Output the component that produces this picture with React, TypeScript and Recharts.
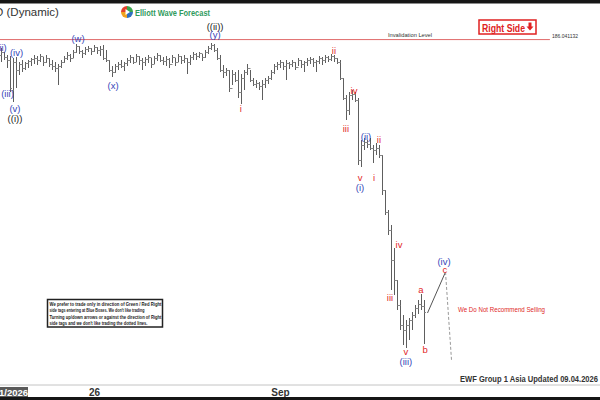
import React from 'react';
import {
  ComposedChart,
  Bar,
  Line,
  XAxis,
  YAxis,
  ReferenceLine,
  ReferenceDot
} from 'recharts';

// OHLC bars, one per session, price
const highs = [
  185.2, 184.8, 184.5, 184.4, 184.2, 184.3, 183.8, 184.0, 183.8, 184.0,
  184.2, 184.5, 184.4, 184.6, 184.3, 184.5, 184.2, 184.0, 183.8, 183.6,
  184.0, 184.4, 184.8, 184.6, 185.0, 185.6, 185.4, 185.0, 185.3, 185.4,
  185.2, 185.5, 185.3, 185.4, 185.5, 185.0, 184.0, 183.4, 183.6, 183.8,
  184.0, 183.8, 184.2, 184.5, 184.3, 184.6, 184.4, 184.2, 184.3, 184.5,
  184.2, 184.4, 184.7, 184.5, 184.3, 184.4, 184.2, 184.5, 184.2, 184.6,
  184.4, 184.5, 184.2, 184.5, 184.8, 184.7, 184.8, 184.6, 185.0, 185.4,
  185.7, 185.6, 185.2, 184.5, 183.5, 183.2, 183.0, 183.0, 182.8, 183.0,
  182.6, 183.0, 183.6, 183.0, 182.2, 182.0, 181.8, 182.0, 182.2, 182.4,
  183.0, 183.6, 183.8, 184.0, 183.8, 184.0, 183.8, 184.0, 183.8, 184.2,
  184.0, 183.9, 184.2, 184.3, 184.2, 184.0, 184.4, 184.3, 184.5, 184.4,
  184.6, 184.5, 184.2, 184.0, 182.2, 180.5, 180.8, 181.0, 180.8, 180.2,
  176.0, 176.2, 176.0, 176.2, 175.5, 175.7, 175.5, 174.5, 171.0, 169.0,
  167.5, 165.2, 162.0, 160.0, 158.5, 158.0, 158.2, 158.8, 159.5, 160.0,
  160.6, 160.0
];

const lows = [
  183.8, 184.0, 183.2, 180.8, 179.8, 181.2, 182.5, 182.8, 183.0, 183.2,
  183.4, 183.6, 183.5, 183.8, 183.4, 183.7, 183.3, 183.0, 182.8, 181.5,
  183.2, 183.7, 184.0, 183.8, 184.2, 184.7, 184.6, 184.2, 184.5, 184.8,
  184.5, 184.8, 184.6, 184.4, 184.0, 183.8, 182.8, 182.3, 182.7, 183.0,
  183.2, 182.9, 183.4, 183.7, 183.6, 183.8, 183.5, 183.0, 183.4, 183.7,
  183.2, 183.6, 183.9, 183.8, 183.5, 183.4, 183.2, 183.7, 183.4, 183.8,
  183.6, 183.7, 182.6, 183.5, 184.0, 184.0, 184.2, 183.9, 184.2, 184.6,
  185.0, 184.8, 184.0, 182.8, 182.2, 182.4, 180.8, 181.5, 181.8, 180.2,
  179.6, 181.0, 182.5, 181.8, 181.4, 181.2, 181.0, 180.0, 181.2, 181.6,
  182.0, 182.6, 183.0, 183.2, 183.0, 182.0, 183.1, 183.3, 183.0, 183.4,
  183.2, 182.8, 183.4, 183.6, 183.3, 182.8, 183.6, 183.5, 183.7, 183.8,
  183.9, 183.8, 183.6, 182.0, 180.0, 178.0, 178.5, 180.0, 179.8, 173.5,
  173.3, 175.0, 175.2, 175.0, 173.7, 174.5, 174.2, 170.5, 168.5, 166.5,
  161.0, 160.5, 159.0, 157.0, 155.5, 155.2, 156.0, 157.0, 158.2, 158.6,
  159.0, 155.6
];

const opens = [
  184.5, 184.8, 184.3, 184.0, 181.0, 183.8, 183.0, 183.6, 183.2, 183.7,
  183.9, 184.1, 184.2, 184.0, 184.4, 183.8, 184.2, 183.6, 183.4, 183.2,
  183.4, 183.8, 184.2, 184.5, 184.2, 184.8, 185.4, 184.9, 184.7, 185.1,
  185.2, 184.9, 185.3, 185.0, 185.1, 184.2, 184.0, 183.0, 182.8, 183.4,
  183.6, 183.4, 183.7, 184.0, 184.3, 183.8, 184.4, 184.0, 183.8, 184.1,
  184.3, 183.6, 184.2, 184.5, 184.0, 183.9, 184.1, 183.6, 184.3, 183.8,
  184.4, 184.0, 184.2, 183.8, 184.3, 184.6, 184.4, 184.7, 184.3, 184.8,
  185.2, 185.5, 185.0, 184.2, 183.0, 182.8, 183.0, 181.2, 182.6, 182.0,
  180.8, 182.2, 182.8, 183.2, 182.0, 181.6, 181.7, 181.4, 181.6, 182.0,
  182.2, 182.8, 183.4, 183.6, 183.8, 183.4, 183.7, 183.6, 183.8, 183.3,
  184.0, 183.6, 183.8, 184.0, 184.1, 183.8, 183.9, 184.2, 184.0, 184.3,
  184.1, 184.4, 184.2, 183.8, 182.2, 180.2, 179.0, 180.5, 180.6, 180.0,
  174.0, 175.5, 175.8, 175.6, 175.2, 175.0, 175.2, 174.5, 171.0, 168.8,
  167.0, 164.0, 162.0, 159.5, 157.5, 157.0, 157.5, 158.0, 158.5, 159.2,
  159.6, 159.4
];

const closes = [
  184.8, 184.3, 184.0, 181.2, 183.8, 183.0, 183.6, 183.2, 183.7, 183.9,
  184.1, 184.2, 184.0, 184.4, 183.8, 184.2, 183.6, 183.4, 183.2, 183.4,
  183.8, 184.2, 184.5, 184.2, 184.8, 185.4, 184.9, 184.7, 185.1, 185.2,
  184.9, 185.3, 185.0, 185.1, 184.2, 184.0, 183.0, 182.8, 183.4, 183.6,
  183.4, 183.7, 184.0, 184.3, 183.8, 184.4, 184.0, 183.8, 184.1, 184.3,
  183.6, 184.2, 184.5, 184.0, 183.9, 184.1, 183.6, 184.3, 183.8, 184.4,
  184.0, 184.2, 183.8, 184.3, 184.6, 184.4, 184.7, 184.3, 184.8, 185.2,
  185.5, 185.0, 184.2, 183.0, 182.8, 183.0, 181.2, 182.6, 182.0, 180.8,
  182.2, 182.8, 183.2, 182.0, 181.6, 181.7, 181.4, 181.6, 182.0, 182.2,
  182.8, 183.4, 183.6, 183.8, 183.4, 183.7, 183.6, 183.8, 183.3, 184.0,
  183.6, 183.8, 184.0, 184.1, 183.8, 183.9, 184.2, 184.0, 184.3, 184.1,
  184.4, 184.2, 183.8, 182.2, 180.2, 179.0, 180.5, 180.6, 180.0, 174.0,
  175.5, 175.8, 175.6, 175.2, 175.0, 175.2, 174.5, 171.0, 168.8, 167.0,
  164.0, 162.0, 159.5, 157.5, 157.0, 157.5, 158.0, 158.5, 159.2, 159.6,
  159.4, 158.8
];

// projected (iv) path and the dotted continuation
const projIdx = [142, 148];
const projVal = [158.7, 162.8];
const dashIdx = [148, 150];
const dashVal = [162.8, 154.0];

const invalidation = 186.041132;

const tickIdx = [4, 31, 93];
const tickLabels = ['1/2026', '26', 'Sep'];

const BLUE = '#3646b8';
const RED = '#e2282a';
const BLACK = '#222';

const waveText = ['(ii)', '(iv)', '(iii)', '(v)', '((i))', '(w)', '(x)', '((ii))', '(y)', 'i', 'ii', 'iii', 'iv', 'v', '(i)', '(ii)', 'i', 'ii', 'iv', 'iii', 'v', '(iii)', 'a', 'b', '(iv)', 'c'];
const waveIdx = [0, 5, 2, 4.5, 4.5, 25.5, 37.2, 71.2, 71.2, 79.8, 110.8, 114.8, 117.5, 119.5, 119.5, 121.5, 124.2, 125.8, 132.5, 129.5, 134.8, 134.8, 139.8, 141.2, 147.5, 147.8];
const wavePrice = [185.3, 184.8, 180.7, 179.2, 178.2, 186.2, 181.5, 187.4, 186.55, 179.2, 185.0, 177.2, 181.0, 172.3, 171.3, 176.4, 172.3, 176.1, 165.6, 160.3, 154.9, 153.9, 161.1, 155.1, 163.9, 163.1];
const waveColor = [BLUE, BLUE, BLUE, BLUE, BLACK, BLUE, BLUE, BLACK, BLUE, RED, RED, RED, RED, RED, BLUE, BLUE, RED, RED, RED, RED, RED, BLUE, RED, RED, BLUE, RED];

const FONT = "'Liberation Sans', Arial, sans-serif";

const data = Array.from({ length: 151 }, (_, i) => ({
  i,
  range: i < highs.length ? [lows[i], highs[i]] : undefined,
  op: opens[i],
  cl: closes[i],
  proj: projIdx.includes(i) ? projVal[projIdx.indexOf(i)] : null,
  dash: dashIdx.includes(i) ? dashVal[dashIdx.indexOf(i)] : null
}));

const OhlcBar = (props: any) => {
  const { x, y, width, height, payload } = props;
  if (!payload || !payload.range) return null;
  const [lo, hi] = payload.range;
  const cx = x + width / 2;
  const py = (p: number) => Math.round(y + ((hi - p) / (hi - lo)) * height) + 0.5;
  return (
    <g stroke="#5e5e5e" strokeWidth={1}>
      <line x1={cx} x2={cx} y1={y} y2={y + height} />
      <line x1={cx - 1.5} x2={cx} y1={py(payload.op)} y2={py(payload.op)} stroke="#8a8a8a" />
      <line x1={cx} x2={cx + 1.5} y1={py(payload.cl)} y2={py(payload.cl)} stroke="#8a8a8a" />
    </g>
  );
};

const AxisTick = (props: any) => {
  const { x, y, payload } = props;
  const label = tickLabels[tickIdx.indexOf(payload.value)];
  if (label === '1/2026') {
    return (
      <g>
        <rect x={x - 13.5} y={y + 2} width={28} height={10} fill="#5a5a5a" />
        <text x={x} y={y + 7.5} textAnchor="middle" dominantBaseline="central" fill="#fff" fontSize={9.5} fontWeight="bold" fontFamily={FONT}>
          {label}
        </text>
      </g>
    );
  }
  return (
    <text x={x} y={y + 7.5} textAnchor="middle" dominantBaseline="central" fill="#333" fontSize={10} fontWeight="bold" fontFamily={FONT}>
      {label}
    </text>
  );
};

const slice = (cx: number, cy: number, r: number, a0: number, a1: number) => {
  const p = (a: number) => `${cx + r * Math.cos(a)} ${cy + r * Math.sin(a)}`;
  return `M${cx} ${cy} L${p(a0)} A${r} ${r} 0 0 1 ${p(a1)} Z`;
};

export default function App() {
  return (
    <div style={{ position: 'relative', width: 600, height: 400, background: '#fff', overflow: 'hidden' }}>
      <style>{'body{margin:0}'}</style>
      <ComposedChart width={600} height={400} data={data} margin={{ top: 4, right: 0, bottom: 0, left: 0 }}>
        <XAxis
          type="number"
          dataKey="i"
          domain={[-0.5, 199.5]}
          allowDataOverflow
          ticks={tickIdx}
          interval={0}
          tick={<AxisTick />}
          tickLine={false}
          tickSize={0}
          tickMargin={0}
          height={15}
          axisLine={{ stroke: '#c4c4c4' }}
        />
        <YAxis type="number" hide domain={[151.5, 189.6]} allowDataOverflow />
        <ReferenceLine
          segment={[{ x: -0.5, y: invalidation }, { x: 182.8, y: invalidation }]}
          stroke="#e06a6a"
          strokeWidth={1}
        />
        <Bar dataKey="range" barSize={1} shape={<OhlcBar />} isAnimationActive={false} />
        <Line dataKey="proj" stroke="#555" strokeWidth={1} dot={false} connectNulls isAnimationActive={false} />
        <Line dataKey="dash" stroke="#999" strokeWidth={1} strokeDasharray="3 2" dot={false} connectNulls isAnimationActive={false} />
        {waveText.map((t, k) => (
          <ReferenceDot
            key={k}
            x={waveIdx[k]}
            y={wavePrice[k]}
            r={1}
            ifOverflow="visible"
            shape={(p: any) => (
              <text x={p.cx} y={p.cy} textAnchor="middle" dominantBaseline="central" fill={waveColor[k]} fontSize={9.5} fontFamily={FONT}>
                {t}
              </text>
            )}
          />
        ))}
      </ComposedChart>

      <svg width={600} height={400} style={{ position: 'absolute', left: 0, top: 0, pointerEvents: 'none' }} fontFamily={FONT}>
        <rect x={0} y={0} width={600} height={3} fill="#161616" />
        <line x1={0} x2={600} y1={3.5} y2={3.5} stroke="#8a8a8a" />
        <rect x={0} y={397} width={600} height={3} fill="#161616" />

        <text x={-5} y={12} dominantBaseline="central" fill="#333" fontSize={11.5}>D (Dynamic)</text>

        <path d={slice(127, 12, 6, -Math.PI / 2, 0)} fill="#3aa64c" />
        <path d={slice(127, 12, 6, 0, Math.PI / 2)} fill="#2f6fc0" />
        <path d={slice(127, 12, 6, Math.PI / 2, Math.PI)} fill="#f1a21f" />
        <path d={slice(127, 12, 6, Math.PI, Math.PI * 1.5)} fill="#e2402c" />
        <path d="M125.5 9 L130 12 L125.5 15 Z" fill="#fff" />
        <text x={135} y={12} dominantBaseline="central" fill="#2f9a5c" fontSize={9.5} fontWeight="bold" textLength={75} lengthAdjust="spacingAndGlyphs">
          Elliott Wave Forecast
        </text>

        <rect x={479} y={20} width={57} height={14} fill="#fff" stroke="#e02020" strokeWidth={1.5} />
        <text x={482} y={27.5} dominantBaseline="central" fill="#e02020" fontSize={10.5} fontWeight="bold" textLength={43} lengthAdjust="spacingAndGlyphs">
          Right Side
        </text>
        <path d="M528.5 22.5 h3 v4 h2 l-3.5 4 l-3.5 -4 h2 z" fill="#e02020" />

        <text x={388} y={35} dominantBaseline="central" fill="#333" fontSize={5.5} textLength={44} lengthAdjust="spacingAndGlyphs">
          Invalidation Level
        </text>
        <text x={552} y={35.5} dominantBaseline="central" fill="#333" fontSize={6} textLength={26} lengthAdjust="spacingAndGlyphs">
          186.041132
        </text>

        <rect x={47.5} y={299.5} width={115} height={27.5} fill="#fff" stroke="#222" strokeWidth={1.5} />
        <g fill="#222" fontSize={5} fontWeight="bold">
          <text x={49.5} y={303.5} dominantBaseline="central" textLength={112} lengthAdjust="spacingAndGlyphs">We prefer to trade only in direction of Green / Red Right</text>
          <text x={49.5} y={310} dominantBaseline="central" textLength={95} lengthAdjust="spacingAndGlyphs">side tags entering at Blue Boxes. We don't like trading</text>
          <text x={49.5} y={316.5} dominantBaseline="central" textLength={112} lengthAdjust="spacingAndGlyphs">Turning up/down arrows or against the direction of Right</text>
          <text x={49.5} y={323} dominantBaseline="central" textLength={98} lengthAdjust="spacingAndGlyphs">side tags and we don't like trading the dotted lines.</text>
        </g>

        <text x={458} y={309} dominantBaseline="central" fill="#e02828" fontSize={8} textLength={87} lengthAdjust="spacingAndGlyphs">
          We Do Not Recommend Selling
        </text>

        <text x={460} y={379} dominantBaseline="central" fill="#333" fontSize={9} fontWeight="bold" textLength={138} lengthAdjust="spacingAndGlyphs">
          EWF Group 1 Asia Updated 09.04.2026
        </text>
      </svg>
    </div>
  );
}
